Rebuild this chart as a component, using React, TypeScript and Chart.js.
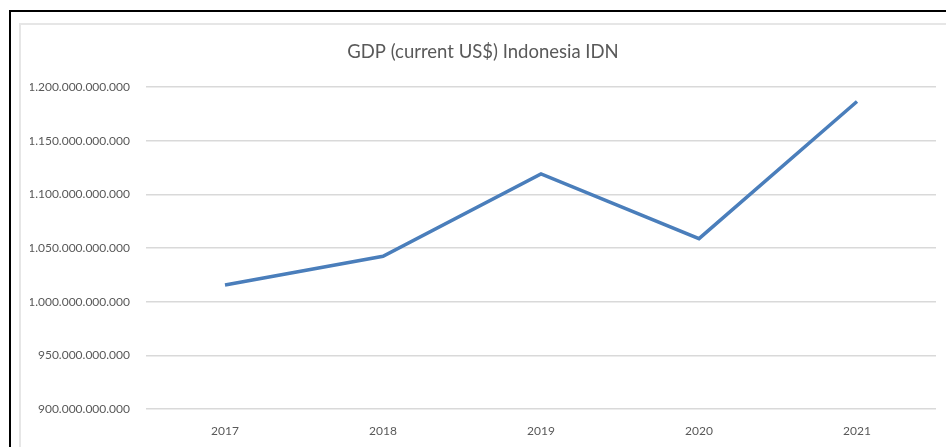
import React, { useEffect, useRef } from "react";
import { Chart, registerables } from "chart.js";

Chart.register(...registerables);

const years: string[] = ["2017", "2018", "2019", "2020", "2021"];
const gdpValues: number[] = [
  1015600000000, 1042300000000, 1119100000000, 1058700000000, 1186500000000,
];
const titleText = "GDP (current US$) Indonesia IDN";
const yMin = 900000000000;
const yMax = 1200000000000;
const yStep = 50000000000;

const FONT = "Lato, 'Open Sans', sans-serif";

function formatDots(v: number): string {
  const s = Math.round(v).toString();
  return s.replace(/\B(?=(\d{3})+(?!\d))/g, ".");
}

export default function App() {
  const canvasRef = useRef<HTMLCanvasElement | null>(null);

  useEffect(() => {
    document.body.style.margin = "0";
    document.body.style.overflow = "hidden";
    const canvas = canvasRef.current;
    if (!canvas) return;
    const chart = new Chart(canvas, {
      type: "line",
      data: {
        labels: years,
        datasets: [
          {
            label: "GDP",
            data: gdpValues,
            borderColor: "#4A7EBB",
            backgroundColor: "#4A7EBB",
            borderWidth: 3.5,
            pointRadius: 0,
            tension: 0,
            fill: false,
          },
        ],
      },
      options: {
        responsive: false,
        animation: false,
        layout: { padding: { left: 30, right: 10, top: 0, bottom: -6.4 } },
        plugins: {
          legend: { display: false },
          tooltip: { enabled: false },
          title: {
            display: true,
            text: titleText,
            color: "#595959",
            font: { family: FONT, size: 18.5, weight: "normal" },
            padding: { top: 41, bottom: 23.8 },
          },
        },
        scales: {
          x: {
            offset: true,
            grid: { display: false, drawTicks: false },
            border: { display: false },
            ticks: {
              color: "#595959",
              font: { family: FONT, size: 12 },
              padding: 15,
              maxRotation: 0,
            },
          },
          y: {
            min: yMin,
            max: yMax,
            afterFit: (scale: any) => {
              scale.width = 116;
            },
            grid: { color: "#d9d9d9", lineWidth: 1.5, drawTicks: false },
            border: { display: false },
            ticks: {
              stepSize: yStep,
              color: "#595959",
              font: { family: FONT, size: 12 },
              padding: 16,
              callback: (v: any) => formatDots(Number(v)),
            },
          },
        },
      },
    });
    return () => chart.destroy();
  }, []);

  return (
    <div
      style={{
        position: "absolute",
        left: 0,
        top: 0,
        width: 946,
        height: 447,
        overflow: "hidden",
        background: "#ffffff",
      }}
    >
      <div
        style={{
          position: "absolute",
          left: 9,
          top: 10,
          width: 2000,
          height: 2000,
          borderLeft: "2px solid #000",
          borderTop: "2px solid #000",
        }}
      />
      <div
        style={{
          position: "absolute",
          left: 19,
          top: 23,
          width: 2000,
          height: 2000,
          borderLeft: "2px solid #e6e6e6",
          borderTop: "2px solid #e6e6e6",
        }}
      />
      <canvas
        ref={canvasRef}
        width={946}
        height={447}
        style={{ position: "absolute", left: 0, top: 0, width: 946, height: 447 }}
      />
    </div>
  );
}
